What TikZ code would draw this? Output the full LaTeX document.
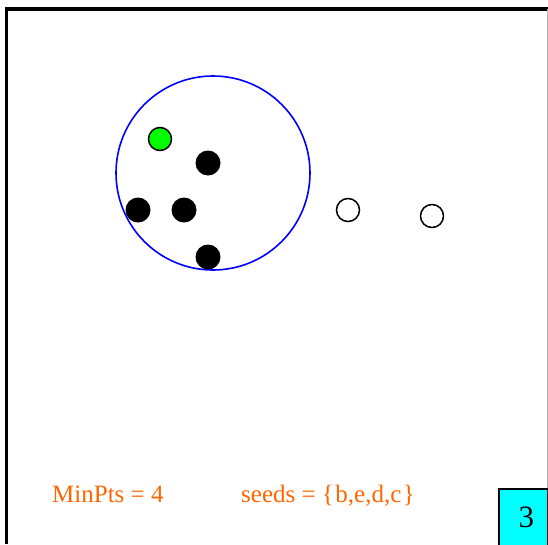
\documentclass[tikz,border=0pt]{standalone}
\usepackage{fontspec}
\setmainfont{Liberation Serif}
\definecolor{ptorange}{RGB}{255,102,0}
\definecolor{boxcyan}{RGB}{0,255,255}
\definecolor{ptgreen}{RGB}{0,255,0}
\begin{document}
\begin{tikzpicture}[x=1pt,y=-1pt,
  core/.style={circle,fill=black,minimum size=25pt,inner sep=0pt},
  seedpt/.style={circle,draw=black,fill=ptgreen,line width=1.5pt,minimum size=23pt,inner sep=0pt},
  noise/.style={circle,draw=black,fill=white,line width=1.5pt,minimum size=23pt,inner sep=0pt},
  lbl/.style={text=ptorange,font=\fontsize{25}{28}\selectfont,inner sep=0pt,anchor=base west}]
\useasboundingbox (0,0) rectangle (548,544);
\fill[white] (0,0) rectangle (548,544);
\draw[line width=3.5pt] (6.5,544) coordinate (bl) -- (6.5,9) coordinate (tl) -- (548,9) coordinate (tr);
\draw[gray!60,line width=0.8pt] (547.5,9) -- (547.5,544);
\node[circle,draw=blue,line width=1.6pt,minimum size=194pt,inner sep=0pt] (eps) at (213,173) {};
\node[seedpt] (p) at (160,139) {};
\node[core] (b) at (208,163) {};
\node[core] (e) at (138,210) {};
\node[core] (d) at (184,210) {};
\node[core] (c) at (208,257) {};
\node[noise] (n1) at (348,210) {};
\node[noise] (n2) at (432,216) {};
\node[lbl] (minpts) at (52,502) {MinPts = 4};
\node[lbl] (seeds) at (241,502) {seeds = \{\kern1.5pt b,e,d,c\kern1.5pt\}};
\node[draw=black,fill=boxcyan,line width=1.8pt,minimum width=49pt,minimum height=57pt,inner sep=0pt,anchor=north west,
  font=\fontsize{31}{34}\selectfont] (num) at (498,488) {\hspace*{6pt}3};
\end{tikzpicture}
\end{document}
